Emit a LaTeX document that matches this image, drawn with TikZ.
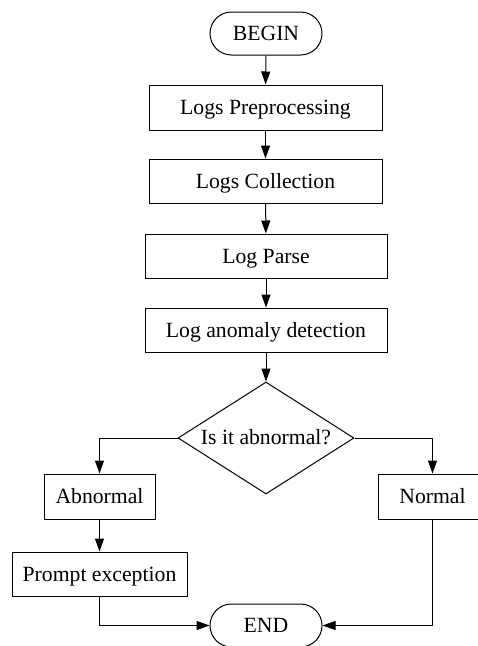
\documentclass[tikz,border=0pt]{standalone}
\usepackage{fontspec}
\setmainfont{Liberation Serif}
\usetikzlibrary{shapes.geometric,shapes.misc,arrows.meta}
\begin{document}
\begin{tikzpicture}[x=1pt,y=-1pt,
  every node/.style={font=\fontsize{21.7}{26}\selectfont, inner sep=0pt,
    text height=14pt, text depth=0pt, line width=1pt},
  proc/.style={draw, rectangle, minimum height=44pt},
  term/.style={draw, rounded rectangle, minimum width=112pt, minimum height=43pt},
  decide/.style={draw, diamond, minimum width=176pt, minimum height=112pt, aspect=1.57},
  flow/.style={line width=1pt, -{Triangle[length=13pt,width=9pt]}}
]
\useasboundingbox (0,0) rectangle (478,646);

% main column
\node[term] (begin) at (266,33.5) {BEGIN};
\node[proc, minimum width=233pt, minimum height=45pt] (prep) at (265.5,107.5) {Logs Preprocessing};
\node[proc, minimum width=233pt] (coll) at (265.5,181) {Logs Collection};
\node[proc, minimum width=242pt] (parse) at (266,256) {Log Parse};
\node[proc, minimum width=242pt] (detect) at (266,330) {Log anomaly detection};
\node[decide] (check) at (266,438) {};
\node at (266,437) {Is it abnormal?};

% branches
\node[proc, minimum width=111pt, minimum height=45pt] (abn) at (99.5,496.5) {Abnormal};
\node[proc, minimum width=175pt] (prompt) at (99.5,574) {Prompt exception};
\node[proc, minimum width=109pt, minimum height=45pt] (norm) at (432.5,496.5) {Normal};
\node[term] (end) at (266,625.5) {END};

% connectors
\draw[flow] (begin) -- (prep);
\draw[flow] (prep) -- (coll);
\draw[flow] (coll) -- (parse);
\draw[flow] (parse) -- (detect);
\draw[flow] (detect) -- (check);
\draw[flow] (check.west) -| (abn.north);
\draw[flow] (check.east) -| (norm.north);
\draw[flow] (abn) -- (prompt);
\draw[flow] (prompt.south) |- (end.west);
\draw[flow] (norm.south) |- (end.east);
\end{tikzpicture}
\end{document}
